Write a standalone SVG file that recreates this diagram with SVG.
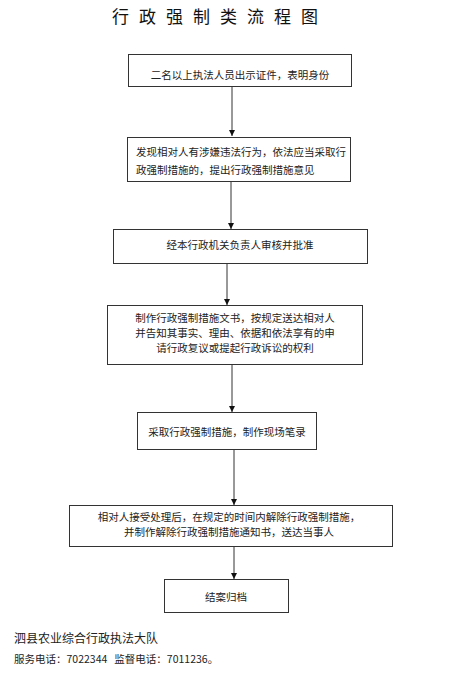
<svg xmlns="http://www.w3.org/2000/svg" width="460" height="687" viewBox="0 0 460 687">
<style>
.box{fill:#fff;stroke:#333;stroke-width:1}
.t{font-family:"Noto Sans CJK SC","Liberation Sans",sans-serif;font-size:10.5px;fill:#222}
.c{stroke:#333;stroke-width:1;fill:none;marker-end:url(#ah)}
.title{font-family:"Noto Sans CJK SC","Liberation Sans",sans-serif;font-size:17px;fill:#111;letter-spacing:10px}
.f{font-family:"Noto Sans CJK SC","Liberation Serif",serif;fill:#222}
</style>
<defs>
<marker id="ah" viewBox="0 0 6 6" refX="6" refY="3" markerWidth="6" markerHeight="6" markerUnits="userSpaceOnUse" orient="auto">
<path d="M0,0 L6,3 L0,6 z" fill="#111"/>
</marker>
</defs>
<rect width="460" height="687" fill="#fff"/>
<text class="title" x="112" y="23">行政强制类流程图</text>
<g id="connectors">
<line class="c" x1="232" y1="87" x2="232" y2="136"/>
<line class="c" x1="231" y1="182" x2="231" y2="229"/>
<line class="c" x1="227" y1="264" x2="227" y2="305"/>
<line class="c" x1="232" y1="365" x2="232" y2="412"/>
<line class="c" x1="234" y1="450" x2="234" y2="505"/>
<line class="c" x1="234" y1="547" x2="234" y2="579"/>
</g>
<g id="n1"><rect class="box" x="128.5" y="54.5" width="223" height="32"/>
<text class="t" x="240" y="79" text-anchor="middle">二名以上执法人员出示证件，表明身份</text></g>
<g id="n2"><rect class="box" x="127.5" y="137.5" width="223" height="44"/>
<text class="t" x="136" y="156">发现相对人有涉嫌违法行为，依法应当采取行</text>
<text class="t" x="136" y="174">政强制措施的，提出行政强制措施意见</text></g>
<g id="n3"><rect class="box" x="113.5" y="229.5" width="254" height="34"/>
<text class="t" x="240" y="249" text-anchor="middle">经本行政机关负责人审核并批准</text></g>
<g id="n4"><rect class="box" x="107.5" y="305.5" width="255" height="59"/>
<text class="t" x="235" y="322" text-anchor="middle">制作行政强制措施文书，按规定送达相对人</text>
<text class="t" x="235" y="337" text-anchor="middle">并告知其事实、理由、依据和依法享有的申</text>
<text class="t" x="235" y="352" text-anchor="middle">请行政复议或提起行政诉讼的权利</text></g>
<g id="n5"><rect class="box" x="137.5" y="412.5" width="179" height="37"/>
<text class="t" x="227" y="436" text-anchor="middle">采取行政强制措施，制作现场笔录</text></g>
<g id="n6"><rect class="box" x="69.5" y="505.5" width="323" height="41"/>
<text class="t" x="229" y="521" text-anchor="middle">相对人接受处理后，在规定的时间内解除行政强制措施，</text>
<text class="t" x="229" y="536" text-anchor="middle">并制作解除行政强制措施通知书，送达当事人</text></g>
<g id="n7"><rect class="box" x="164.5" y="579.5" width="124" height="33"/>
<text class="t" x="226" y="601" text-anchor="middle">结案归档</text></g>
<text class="f" x="14" y="643" font-size="12">泗县农业综合行政执法大队</text>
<text class="f" x="14" y="663" font-size="10.5" xml:space="preserve">服务电话：7022344   监督电话：7011236。</text>
</svg>
